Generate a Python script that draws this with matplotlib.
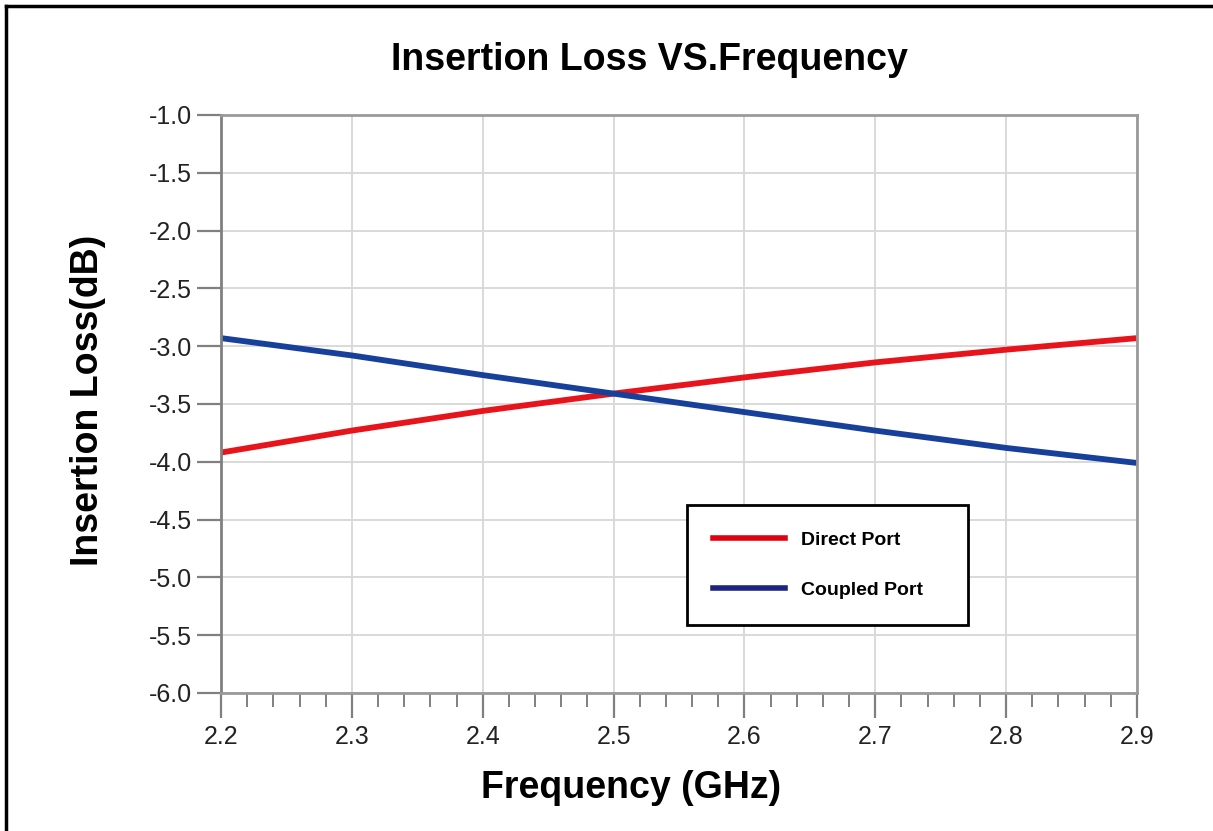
import matplotlib.pyplot as plt
from matplotlib.lines import Line2D
from matplotlib.ticker import MultipleLocator

freq = [2.2, 2.3, 2.4, 2.5, 2.6, 2.7, 2.8, 2.9]
direct_port = [-3.92, -3.73, -3.56, -3.41, -3.27, -3.14, -3.03, -2.93]
coupled_port = [-2.93, -3.08, -3.25, -3.41, -3.57, -3.73, -3.88, -4.01]

x_ticks = [2.2, 2.3, 2.4, 2.5, 2.6, 2.7, 2.8, 2.9]
y_ticks = [-1.0, -1.5, -2.0, -2.5, -3.0, -3.5, -4.0, -4.5, -5.0, -5.5, -6.0]

plt.rcParams['font.family'] = ['Liberation Sans', 'DejaVu Sans']
plt.rcParams['axes.unicode_minus'] = False

fig = plt.figure(figsize=(12.13, 8.31), dpi=100)
ax = fig.add_axes([221 / 1213, 1 - 693 / 831, (1137 - 221) / 1213, (693 - 115) / 831])

ax.plot(freq, direct_port, color='#e8141b', lw=4.2, solid_capstyle='butt')
ax.plot(freq, coupled_port, color='#16409a', lw=4.2, solid_capstyle='butt')

ax.set_xlim(2.2, 2.9)
ax.set_ylim(-6.0, -1.0)
ax.xaxis.set_minor_locator(MultipleLocator(0.02))
ax.set_xticks(x_ticks)
ax.set_xticklabels([f'{v:.1f}' for v in x_ticks])
ax.set_yticks(y_ticks)
ax.set_yticklabels([f'{v:.1f}' for v in y_ticks])

ax.grid(True, which='major', color='#d9d9d9', lw=1.4)
ax.set_axisbelow(True)
for side in ['left', 'top', 'right', 'bottom']:
    ax.spines[side].set_color('#9a9a9a')
    ax.spines[side].set_linewidth(2)
ax.spines['left'].set_color('#808080')

ax.tick_params(axis='y', which='major', length=17, width=1.6, color='#808080',
               labelsize=18, pad=4, labelcolor='#222222')
ax.tick_params(axis='x', which='major', length=18, width=1.6, color='#808080',
               labelsize=18, pad=5, labelcolor='#222222')
ax.tick_params(axis='x', which='minor', length=10, width=1.4, color='#808080')

fig.text(649 / 1213, 1 - 60 / 831, 'Insertion Loss VS.Frequency', ha='center', va='center',
         fontsize=27, fontweight='bold')
fig.text(631 / 1213, 1 - 788 / 831, 'Frequency (GHz)', ha='center', va='center',
         fontsize=27, fontweight='bold')
fig.text(88 / 1213, 1 - 400 / 831, 'Insertion Loss(dB)', ha='center', va='center',
         rotation=90, fontsize=27, fontweight='bold')

leg_top = 1 - (505 - 115) / 578
leg_h = 125 / 578
leg = ax.legend([Line2D([], [], color='#e00010', lw=4), Line2D([], [], color='#1c2480', lw=4)],
                ['Direct Port', 'Coupled Port'],
                loc='upper left', mode='expand',
                bbox_to_anchor=((687 - 221) / 916, leg_top - leg_h, 281 / 916, leg_h),
                frameon=True, fancybox=False, edgecolor='black', framealpha=1,
                prop={'weight': 'bold', 'size': 14}, handlelength=3.7, handletextpad=0.8,
                labelspacing=1.65, borderpad=1.35, borderaxespad=0)
leg.get_frame().set_linewidth(2)

# outer frame lines (left and top)
fig.add_artist(Line2D([6 / 1213, 6 / 1213], [0, 1 - 6 / 831], color='black', lw=2.5,
                      transform=fig.transFigure))
fig.add_artist(Line2D([6 / 1213, 1], [1 - 6 / 831, 1 - 6 / 831], color='black', lw=2.5,
                      transform=fig.transFigure))

fig.savefig('out.png', dpi=100)
